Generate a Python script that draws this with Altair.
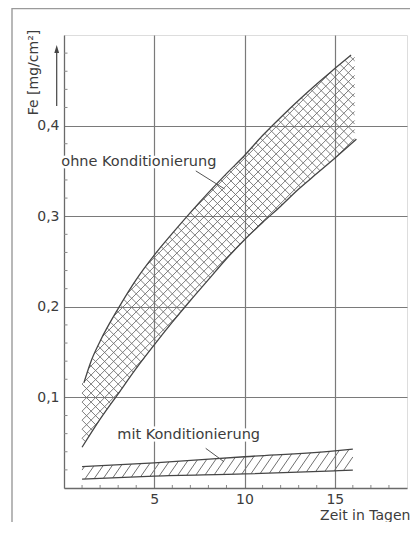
import altair as alt
import numpy as np
import pandas as pd

# ---------------- data ----------------
# band "ohne Konditionierung"
ohne_upper_x = [1.1, 1.5, 2, 3, 4, 5, 6, 7, 8, 9, 10, 11, 12, 13, 14, 15, 15.9]
ohne_upper_y = [0.116, 0.140, 0.162, 0.198, 0.230, 0.257, 0.281, 0.304, 0.326,
                0.347, 0.367, 0.389, 0.409, 0.428, 0.446, 0.463, 0.478]
ohne_lower_x = [1.0, 2, 3, 4, 5, 6, 7, 8, 9, 10, 11, 12, 13, 14, 15, 16.2]
ohne_lower_y = [0.045, 0.076, 0.104, 0.132, 0.158, 0.183, 0.207, 0.230, 0.253,
                0.274, 0.293, 0.311, 0.330, 0.347, 0.364, 0.385]
# band "mit Konditionierung"
mit_upper_x = [1.0, 5, 10, 15, 16.0]
mit_upper_y = [0.0235, 0.0277, 0.0345, 0.041, 0.043]
mit_lower_x = [1.0, 5, 10, 15, 16.0]
mit_lower_y = [0.0099, 0.0132, 0.0155, 0.019, 0.0198]

x_ticks = [5, 10, 15]
y_ticks = [0.1, 0.2, 0.3, 0.4]
x_minor = [1, 2, 3, 4, 6, 7, 8, 9, 11, 12, 13, 14, 16, 17, 18]
y_minor = [0.02, 0.04, 0.06, 0.08, 0.12, 0.14, 0.16, 0.18, 0.22, 0.24, 0.26, 0.28,
           0.32, 0.34, 0.36, 0.38, 0.42, 0.44, 0.46, 0.48]

labels = ["ohne Konditionierung", "mit Konditionierung"]
label_x = [-0.15, 2.95]
label_y = [0.360, 0.0585]
leader_x = [7.3, 7.85]
leader_y = [0.350, 0.0438]
leader_x2 = [8.9, 8.86]
leader_y2 = [0.330, 0.029]

x_title = "Zeit in Tagen"
y_title = "Fe [mg/cm²]"

# ---------------- layout ----------------
W, H = 343, 453
FONT = "DejaVu Sans"
XMAX, YMAX = 19, 0.5


def hatch(lx, ly, ux, uy, x0, x1, pix_slope, step):
    """parallel hatch segments clipped to the band between two curves"""
    slope = pix_slope * (H / YMAX) ** -1 * (W / XMAX)
    xs = np.linspace(x0, x1, 4001)
    lo = np.interp(xs, lx, ly)
    hi = np.interp(xs, ux, uy)
    dc = abs(slope) * step
    cmin = (lo - slope * xs).min()
    cmax = (hi - slope * xs).max()
    rows = []
    for c in np.arange(cmin - dc, cmax + dc, dc):
        yy = c + slope * xs
        idx = np.flatnonzero((yy >= lo) & (yy <= hi))
        if len(idx) < 2:
            continue
        br = np.where(np.diff(idx) > 1)[0]
        starts = np.r_[idx[0], idx[br + 1]]
        ends = np.r_[idx[br], idx[-1]]
        for s, e in zip(starts, ends):
            if e > s:
                rows.append({"x": xs[s], "y": yy[s], "x2": xs[e], "y2": yy[e]})
    return rows


h_rows = (hatch(ohne_lower_x, ohne_lower_y, ohne_upper_x, ohne_upper_y, 1.0, 16.1, 1.0, 0.5)
          + hatch(ohne_lower_x, ohne_lower_y, ohne_upper_x, ohne_upper_y, 1.0, 16.1, -1.0, 0.5))
m_rows = hatch(mit_lower_x, mit_lower_y, mit_upper_x, mit_upper_y, 1.0, 16.0, 1.45, 0.5)
hatch_ohne = pd.DataFrame(h_rows)
hatch_mit = pd.DataFrame(m_rows)

curves = pd.concat([
    pd.DataFrame({"x": ohne_upper_x, "y": ohne_upper_y, "c": "ou"}),
    pd.DataFrame({"x": ohne_lower_x, "y": ohne_lower_y, "c": "ol"}),
    pd.DataFrame({"x": mit_upper_x, "y": mit_upper_y, "c": "mu"}),
    pd.DataFrame({"x": mit_lower_x, "y": mit_lower_y, "c": "ml"}),
])
ann = pd.DataFrame({"t": labels, "x": label_x, "y": label_y})
lead = pd.DataFrame({"x": leader_x, "y": leader_y, "x2": leader_x2, "y2": leader_y2})
dummy = pd.DataFrame({"a": [0]})

xscale = alt.Scale(domain=[0, XMAX], nice=False, zero=False)
yscale = alt.Scale(domain=[0, YMAX], nice=False, zero=False)
xaxis = alt.Axis(values=x_ticks, grid=True, ticks=False, tickSize=0, labelPadding=4,
                 labelFontSize=14, labelColor="#3c3c3c", labelFont=FONT,
                 domainColor="#6a6a6a", domainWidth=1.3, gridColor="#7a7a7a", gridWidth=1.2,
                 title=x_title, titleFont=FONT, titleFontSize=14, titleFontWeight="normal",
                 titleColor="#3c3c3c", titleX=346, titleY=27, titleAlign="right",
                 titleBaseline="middle", titleAnchor="end")
yaxis = alt.Axis(values=y_ticks, grid=True, ticks=False, tickSize=0, labelPadding=5,
                 labelExpr="replace(format(datum.value, '.1f'), '.', ',')",
                 labelFontSize=14, labelColor="#3c3c3c", labelFont=FONT,
                 domainColor="#6a6a6a", domainWidth=1.3, gridColor="#7a7a7a", gridWidth=1.2,
                 title=y_title, titleFont=FONT, titleFontSize=14, titleFontWeight="normal",
                 titleColor="#3c3c3c", titleX=-31, titleY=37, titleAngle=270,
                 titleAlign="center", titleBaseline="middle")


def X(f):
    return alt.X(f, type="quantitative", scale=xscale, axis=xaxis)


def Y(f):
    return alt.Y(f, type="quantitative", scale=yscale, axis=yaxis)


hatch1 = alt.Chart(hatch_ohne).mark_rule(color="#707070", strokeWidth=0.9).encode(
    x=X("x"), y=Y("y"), x2="x2:Q", y2="y2:Q")
hatch2 = alt.Chart(hatch_mit).mark_rule(color="#707070", strokeWidth=1.0).encode(
    x=X("x"), y=Y("y"), x2="x2:Q", y2="y2:Q")
lines = alt.Chart(curves).mark_line(color="#454545", strokeWidth=1.3, interpolate="monotone").encode(
    x=X("x"), y=Y("y"), detail="c:N")
xmin_t = alt.Chart(pd.DataFrame({"v": x_minor})).mark_rule(color="#888", strokeWidth=1).encode(
    x=X("v"), y=alt.value(H), y2=alt.value(H - 3))
ymin_t = alt.Chart(pd.DataFrame({"v": y_minor})).mark_rule(color="#888", strokeWidth=1).encode(
    y=Y("v"), x=alt.value(0), x2=alt.value(3.5))
leaders = alt.Chart(lead).mark_rule(color="#555", strokeWidth=1).encode(
    x=X("x"), y=Y("y"), x2="x2:Q", y2="y2:Q")
halo = alt.Chart(ann).mark_text(align="left", baseline="middle", font=FONT, fontSize=14.5,
                                stroke="white", strokeWidth=5, color="white").encode(
    x=X("x"), y=Y("y"), text="t:N")
texts = alt.Chart(ann).mark_text(align="left", baseline="middle", font=FONT, fontSize=14.5,
                                 color="#3c3c3c").encode(x=X("x"), y=Y("y"), text="t:N")
frame_top = alt.Chart(dummy).mark_rule(color="#9a9a9a", strokeWidth=1.4).encode(
    x=alt.value(-52), x2=alt.value(346), y=alt.value(-26.5))
frame_left = alt.Chart(dummy).mark_rule(color="#9a9a9a", strokeWidth=1.4).encode(
    x=alt.value(-52), y=alt.value(-27), y2=alt.value(500))
arrow_shaft = alt.Chart(dummy).mark_rule(color="#444", strokeWidth=1.2).encode(
    x=alt.value(-7.3), y=alt.value(15), y2=alt.value(71))
arrow_head = alt.Chart(dummy).mark_point(shape="M0,-1L0.6,1L-0.6,1Z", filled=True, size=64,
                                         color="#444", opacity=1).encode(
    x=alt.value(-7.3), y=alt.value(14))

chart = alt.layer(hatch1, hatch2, lines, xmin_t, ymin_t, leaders, halo, texts,
                  frame_top, frame_left, arrow_shaft, arrow_head).properties(
    width=W, height=H,
    padding={"left": 56, "top": 27, "right": 3, "bottom": 34},
    autosize="none",
    background="white",
).configure_view(stroke="#7a7a7a", strokeWidth=1.2).configure(font=FONT)

chart.save("out.html", embed_options={"renderer": "svg", "actions": False})
